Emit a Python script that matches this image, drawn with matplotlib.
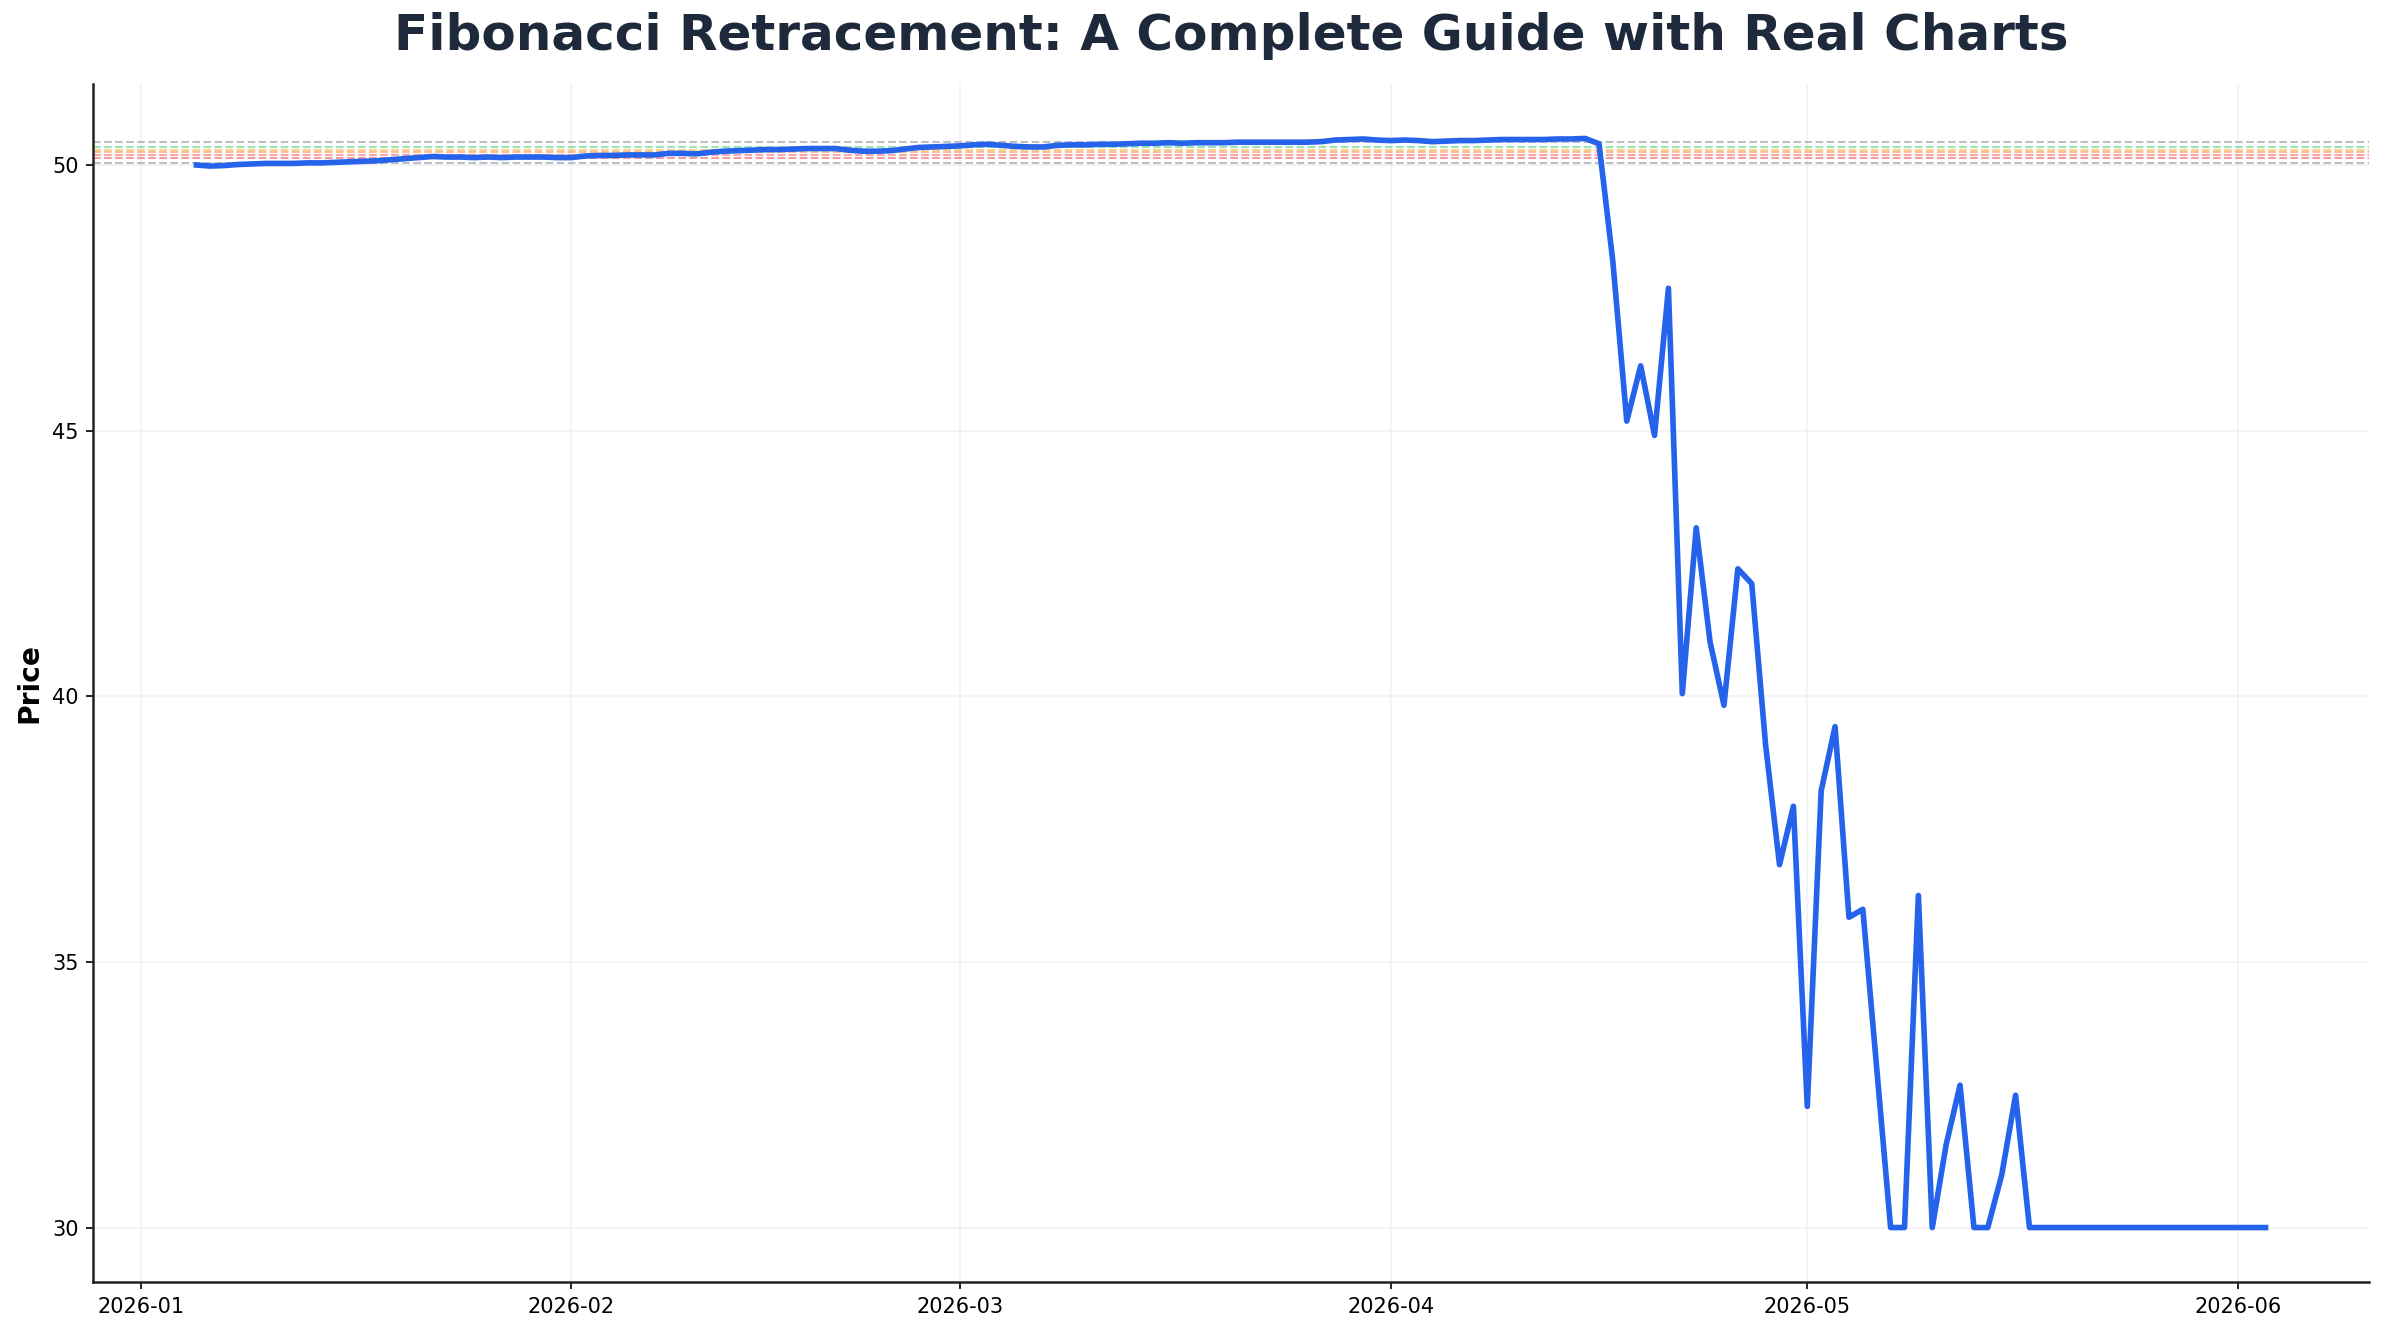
import matplotlib
matplotlib.use("Agg")
import matplotlib.pyplot as plt
import matplotlib.dates as mdates
import pandas as pd
import numpy as np

start_date = "2026-01-05"

prices_jan = [50.00, 49.98, 49.99, 50.01, 50.02, 50.03, 50.03, 50.03, 50.04, 50.04,
              50.05, 50.06, 50.07, 50.08, 50.10, 50.12, 50.14, 50.16, 50.15, 50.15,
              50.14, 50.15, 50.14, 50.15, 50.15, 50.15, 50.14]
prices_feb = [50.14, 50.17, 50.18, 50.18, 50.19, 50.19, 50.19, 50.22, 50.22, 50.21,
              50.24, 50.26, 50.27, 50.28, 50.29, 50.29, 50.30, 50.31, 50.31, 50.31,
              50.28, 50.26, 50.26, 50.27, 50.30, 50.33, 50.34, 50.35]
prices_mar = [50.36, 50.38, 50.39, 50.37, 50.35, 50.34, 50.34, 50.37, 50.38, 50.38,
              50.39, 50.39, 50.40, 50.41, 50.41, 50.42, 50.41, 50.42, 50.42, 50.42,
              50.43, 50.43, 50.43, 50.43, 50.43, 50.43, 50.44, 50.47, 50.48, 50.49,
              50.47]
prices_apr = [50.46, 50.47, 50.46, 50.44, 50.45, 50.46, 50.46, 50.47, 50.48, 50.48,
              50.48, 50.48, 50.49, 50.49, 50.50, 50.40, 48.18, 45.18, 46.22, 44.91,
              47.68, 40.05, 43.17, 41.02, 39.83, 42.40, 42.12, 39.08, 36.83, 37.93]
prices_may = [32.28, 38.22, 39.43, 35.84, 35.99, 33.00, 30.00, 30.00, 36.25, 30.00,
              31.56, 32.68, 30.00, 30.00, 30.99, 32.49, 30.00, 30.00, 30.00, 30.00,
              30.00, 30.00, 30.00, 30.00, 30.00, 30.00, 30.00, 30.00, 30.00, 30.00,
              30.00]
prices_jun = [30.00, 30.00, 30.00]

swing_high = 50.44
swing_low = 50.04
fib_ratios = [0.0, 0.236, 0.382, 0.5, 0.618, 0.786, 1.0]
fib_colors = ["#6b7280", "#22c55e", "#f59e0b", "#f97316", "#ef4444", "#dc2626", "#6b7280"]

title = "Fibonacci Retracement: A Complete Guide with Real Charts"
ylabel = "Price"

prices = prices_jan + prices_feb + prices_mar + prices_apr + prices_may + prices_jun
dates = pd.date_range(start_date, periods=len(prices), freq="D")

W, H, DPI = 2384, 1333, 150
fig = plt.figure(figsize=(W / DPI, H / DPI), dpi=DPI)
ax_left, ax_right = 93 / W, 2369 / W
ax = fig.add_axes([ax_left, 1 - 1282 / H, ax_right - ax_left, (1282 - 84) / H])

for r, c in zip(fib_ratios, fib_colors):
    level = swing_high - (swing_high - swing_low) * r
    ax.axhline(level, color=c, linestyle="--", linewidth=1.0, alpha=0.45, zorder=1)

ax.plot(dates, prices, color="#2563eb", linewidth=2.7, zorder=3)

ax.xaxis.set_major_locator(mdates.MonthLocator())
ax.xaxis.set_major_formatter(mdates.DateFormatter("%Y-%m"))
ax.grid(True, color="#e5e7eb", linewidth=0.8, alpha=0.5, zorder=0)
ax.set_axisbelow(True)
for s in ["top", "right"]:
    ax.spines[s].set_visible(False)
for s in ["left", "bottom"]:
    ax.spines[s].set_color("#222222")
    ax.spines[s].set_linewidth(1.2)
ax.tick_params(axis="both", labelsize=10)
ax.set_ylabel(ylabel, fontsize=13.5, fontweight="bold")
fig.text((ax_left + ax_right) / 2, 1 - 36 / H, title, fontsize=24, fontweight="bold",
         color="#1e293b", ha="center", va="center")

fig.savefig("out.png", dpi=DPI)
